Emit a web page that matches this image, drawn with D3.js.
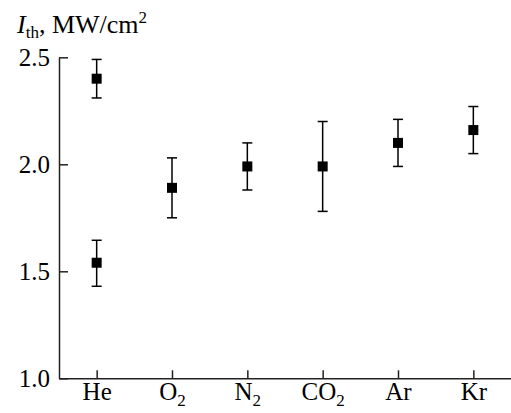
<!DOCTYPE html>
<html>
<head>
<meta charset="utf-8">
<script src="https://cdn.jsdelivr.net/npm/d3@7"></script>
<style>
  html, body { margin: 0; padding: 0; background: #fff; }
  svg { display: block; }
  svg text { font-family: 'Liberation Serif', 'Times New Roman', serif; fill: #000; }
</style>
</head>
<body>
<svg id="chart" width="511" height="413"></svg>
<script>
// Gases on the x axis (base symbol + subscript)
const gases = ["He", "O2", "N2", "CO2", "Ar", "Kr"];
const gasBase = ["He", "O", "N", "CO", "Ar", "Kr"];
const gasSub = ["", "2", "2", "2", "", ""];

// Threshold intensity measurements, MW/cm^2 (He measured twice)
const pointGas = ["He", "He", "O2", "N2", "CO2", "Ar", "Kr"];
const pointValue = [2.40, 1.54, 1.89, 1.99, 1.99, 2.10, 2.16];
const errLow = [2.31, 1.43, 1.75, 1.88, 1.78, 1.99, 2.05];
const errHigh = [2.49, 1.645, 2.03, 2.10, 2.20, 2.21, 2.27];

const yTicks = [1.0, 1.5, 2.0, 2.5];

const svg = d3.select("#chart");
const plotLeft = 59, plotRight = 511, plotTop = 57.3, plotBottom = 378.3;

const x = d3.scalePoint().domain(gases).range([plotLeft, plotRight]).padding(0.5);
const y = d3.scaleLinear().domain([1.0, 2.5]).range([plotBottom, plotTop]);

const axisColor = "#222";
const fontSize = 25;

// y axis: inward ticks, labels to the left
const yAxis = svg.append("g")
  .attr("transform", `translate(${plotLeft},0)`)
  .call(d3.axisLeft(y).tickValues(yTicks).tickFormat(d3.format(".1f"))
    .tickSize(-9).tickSizeOuter(0).tickPadding(9));
yAxis.attr("font-family", null);
yAxis.select(".domain").attr("stroke", axisColor).attr("stroke-width", 1.5);
yAxis.selectAll(".tick line").attr("stroke", axisColor).attr("stroke-width", 1.5);
yAxis.selectAll(".tick text").attr("font-size", fontSize);

// x axis: inward ticks, chemical labels below
const xAxis = svg.append("g")
  .attr("transform", `translate(0,${plotBottom})`)
  .call(d3.axisBottom(x).tickSize(-8).tickSizeOuter(0).tickPadding(3));
xAxis.attr("font-family", null);
xAxis.select(".domain").attr("stroke", axisColor).attr("stroke-width", 1.5);
xAxis.selectAll(".tick line").attr("stroke", axisColor).attr("stroke-width", 1.5);
xAxis.selectAll(".tick text").each(function(d) {
  const i = gases.indexOf(d);
  const t = d3.select(this)
    .text(null)
    .attr("font-size", fontSize)
    .attr("dy", "0.75em");
  t.append("tspan").text(gasBase[i]);
  if (gasSub[i]) {
    t.append("tspan").attr("font-size", 17).attr("dy", 6).text(gasSub[i]);
  }
});

// error bars
const capHalf = 5;
const pts = pointGas.map((g, i) => ({ g, v: pointValue[i], lo: errLow[i], hi: errHigh[i] }));
const bars = svg.append("g").attr("stroke", "#000").attr("stroke-width", 1.5);
bars.selectAll("line.stem").data(pts).join("line").attr("class", "stem")
  .attr("x1", d => x(d.g)).attr("x2", d => x(d.g))
  .attr("y1", d => y(d.lo)).attr("y2", d => y(d.hi));
bars.selectAll("line.capHi").data(pts).join("line").attr("class", "capHi")
  .attr("x1", d => x(d.g) - capHalf).attr("x2", d => x(d.g) + capHalf)
  .attr("y1", d => y(d.hi)).attr("y2", d => y(d.hi));
bars.selectAll("line.capLo").data(pts).join("line").attr("class", "capLo")
  .attr("x1", d => x(d.g) - capHalf).attr("x2", d => x(d.g) + capHalf)
  .attr("y1", d => y(d.lo)).attr("y2", d => y(d.lo));

// square markers
const m = 10;
svg.append("g").selectAll("rect").data(pts).join("rect")
  .attr("x", d => x(d.g) - m / 2).attr("y", d => y(d.v) - m / 2)
  .attr("width", m).attr("height", m).attr("fill", "#000");

// axis title
const title = svg.append("text")
  .attr("x", 17).attr("y", 33)
  .attr("font-size", 26);
title.append("tspan").attr("font-style", "italic").text("I");
title.append("tspan").attr("font-size", 17).attr("dy", 5).text("th");
title.append("tspan").attr("dy", -5).text(", MW/cm");
title.append("tspan").attr("font-size", 17).attr("dy", -10).text("2");
</script>
</body>
</html>
